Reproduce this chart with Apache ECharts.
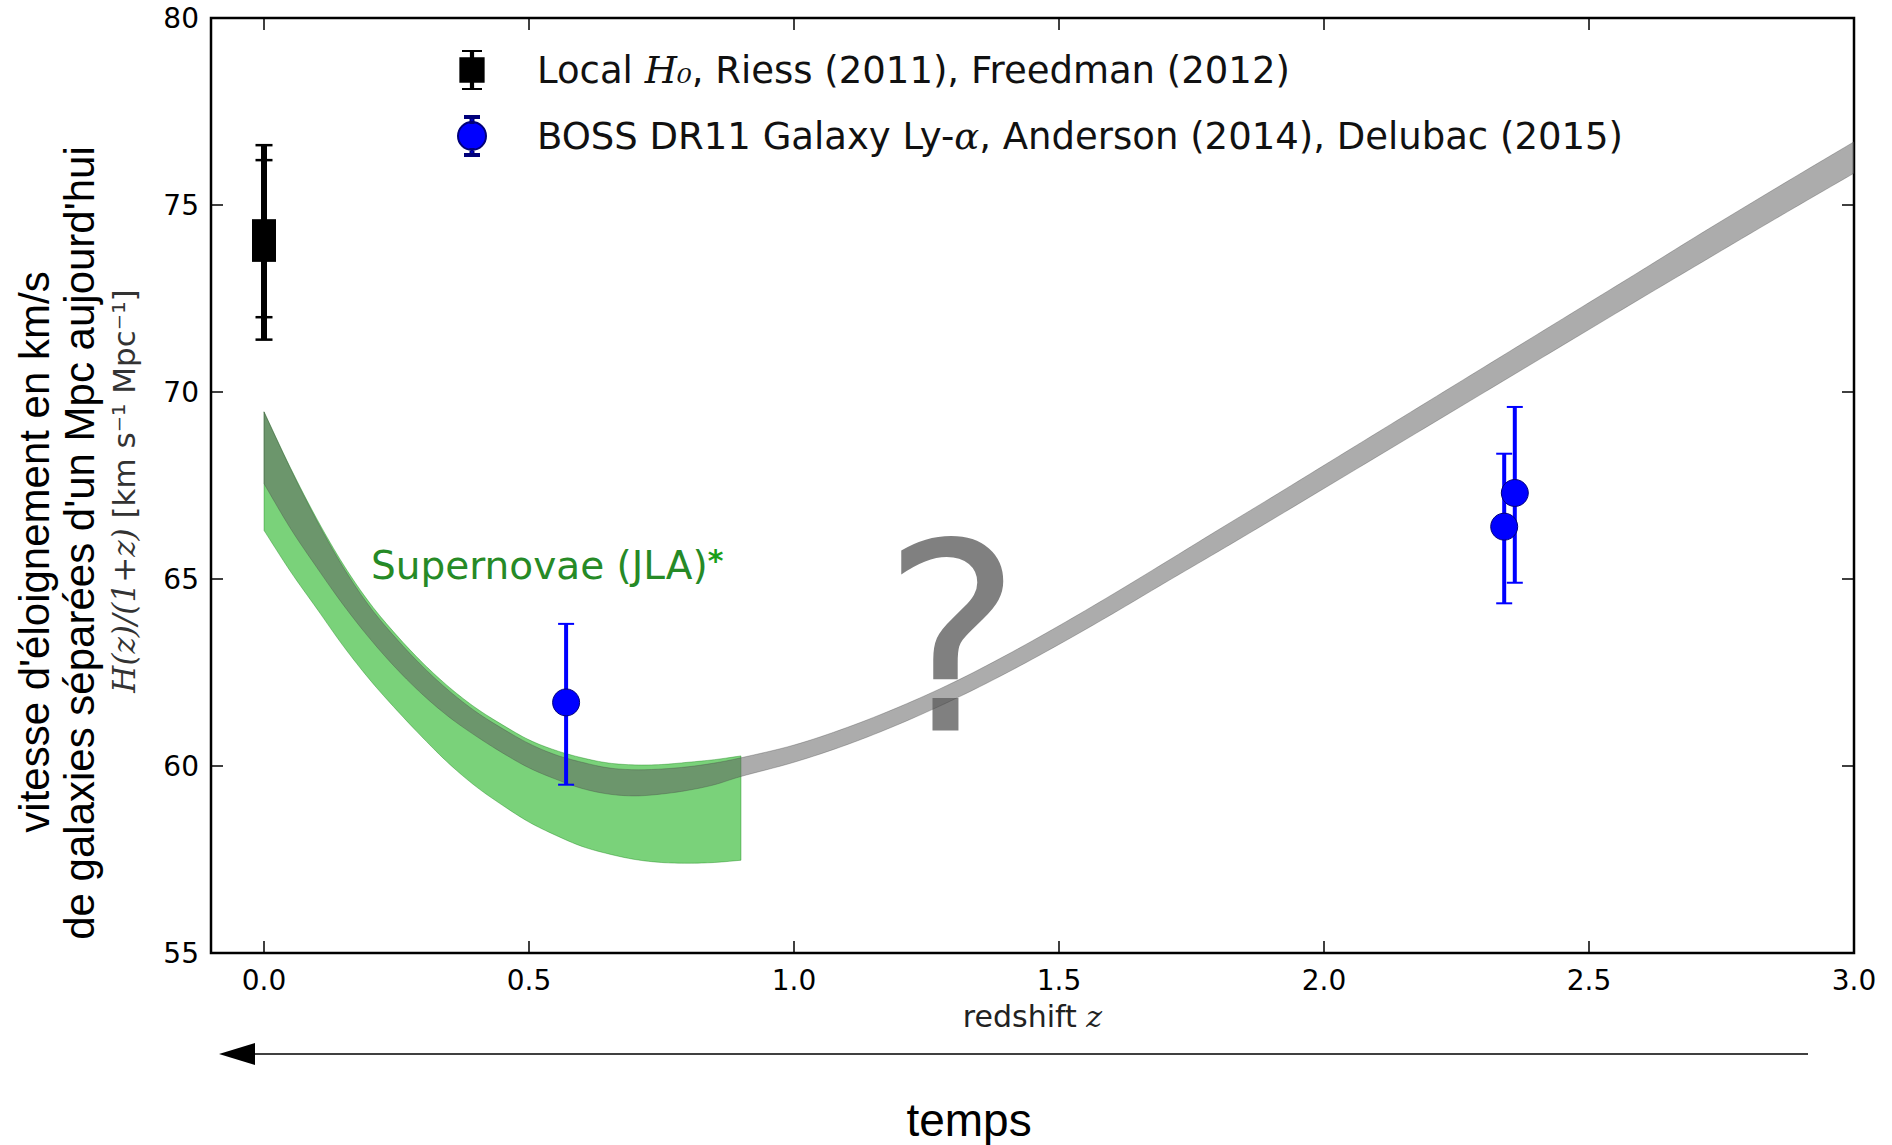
<!DOCTYPE html>
<html><head><meta charset="utf-8">
<script src="https://cdn.jsdelivr.net/npm/echarts@6/dist/echarts.min.js"></script>
<style>html,body{margin:0;padding:0;background:#fff}#c{width:1892px;height:1145px}</style>
</head><body><div id="c"></div>
<script>
// ---- data ----
const xTicks = [0, 0.5, 1.0, 1.5, 2.0, 2.5, 3.0];
const xTickLabels = ['0.0', '0.5', '1.0', '1.5', '2.0', '2.5', '3.0'];
const yTicks = [55, 60, 65, 70, 75, 80];

// grey band (model prediction)
const grayZ    = [0, 0.05, 0.10, 0.15, 0.20, 0.25, 0.30, 0.35, 0.40, 0.45, 0.50, 0.55, 0.60, 0.65, 0.70, 0.75, 0.80, 0.85, 0.90,
                  1.0, 1.1, 1.2, 1.3, 1.4, 1.5, 1.6, 1.7, 1.8, 1.9, 2.0, 2.1, 2.2, 2.3, 2.4, 2.5, 2.6, 2.7, 2.8, 2.9, 3.0];
const grayLow  = [67.55, 66.35, 65.3, 64.3, 63.4, 62.6, 61.9, 61.3, 60.8, 60.35, 59.95, 59.65, 59.4, 59.25, 59.2, 59.25, 59.35, 59.5, 59.72,
                  60.1, 60.57, 61.13, 61.77, 62.48, 63.25, 64.06, 64.9, 65.73, 66.57, 67.42, 68.27, 69.12, 69.97, 70.82, 71.67, 72.52, 73.36, 74.2, 75.03, 75.85];
const grayHigh = [69.47, 67.95, 66.55, 65.3, 64.25, 63.4, 62.65, 62.0, 61.45, 61.0, 60.6, 60.3, 60.1, 59.95, 59.9, 59.92, 59.98, 60.08, 60.22,
                  60.56, 61.03, 61.59, 62.23, 62.96, 63.75, 64.58, 65.44, 66.31, 67.17, 68.04, 68.91, 69.78, 70.65, 71.52, 72.39, 73.26, 74.14, 75.0, 75.85, 76.69];

// green band (supernovae JLA)
const greenZ    = [0, 0.05, 0.10, 0.15, 0.20, 0.25, 0.30, 0.35, 0.40, 0.45, 0.50, 0.55, 0.60, 0.65, 0.70, 0.75, 0.80, 0.85, 0.90];
const greenLow  = [66.3, 65.2, 64.2, 63.2, 62.3, 61.5, 60.75, 60.05, 59.45, 58.95, 58.5, 58.15, 57.85, 57.65, 57.5, 57.42, 57.4, 57.42, 57.48];
const greenHigh = [69.47, 67.97, 66.6, 65.38, 64.35, 63.5, 62.75, 62.1, 61.55, 61.1, 60.7, 60.42, 60.22, 60.08, 60.03, 60.04, 60.1, 60.17, 60.27];

// Local H0 (Riess 2011, Freedman 2012)
const localZ  = [0, 0];
const localH  = [74.3, 73.8];
const localLo = [72.0, 71.4];
const localHi = [76.6, 76.2];

// BOSS DR11 galaxy + Ly-alpha
const bossZ  = [0.57, 2.34, 2.36];
const bossH  = [61.7, 66.4, 67.3];
const bossLo = [59.5, 64.35, 64.9];
const bossHi = [63.8, 68.35, 69.6];

// ---- chart ----
const chart = echarts.init(document.getElementById('c'), null, {renderer: 'svg'});

// Catmull-Rom densification of pixel points (smooth edge through the read values)
function smoothPts(pts, n) {
  const out = [];
  const L = pts.length;
  for (let i = 0; i < L - 1; i++) {
    const p0 = pts[Math.max(i - 1, 0)], p1 = pts[i], p2 = pts[i + 1], p3 = pts[Math.min(i + 2, L - 1)];
    for (let k = 0; k < n; k++) {
      const t = k / n, t2 = t * t, t3 = t2 * t;
      const f = (a, b, c, d) => 0.5 * ((2 * b) + (-a + c) * t + (2 * a - 5 * b + 4 * c - d) * t2 + (-a + 3 * b - 3 * c + d) * t3);
      out.push([f(p0[0], p1[0], p2[0], p3[0]), f(p0[1], p1[1], p2[1], p3[1])]);
    }
  }
  out.push(pts[L - 1]);
  return out;
}

function bandSeries(zs, lo, hi, fill, stroke, z) {
  return {
    type: 'custom', z: z, silent: true, clip: true,
    data: zs.map((v, i) => [v, lo[i], hi[i]]),
    encode: {x: 0, y: [1, 2]},
    renderItem: function (params, api) {
      if (params.dataIndex !== 0) return null;
      const top = [], bot = [];
      for (let i = 0; i < zs.length; i++) { top.push(api.coord([zs[i], hi[i]])); bot.push(api.coord([zs[i], lo[i]])); }
      const pts = smoothPts(top, 8).concat(smoothPts(bot, 8).reverse());
      return {type: 'polygon', shape: {points: pts}, style: {fill: fill, stroke: stroke, lineWidth: 1}};
    }
  };
}

function errSeries(zs, lo, hi, color, barW, capW, capLW, z) {
  return {
    type: 'custom', z: z, silent: true,
    data: zs.map((v, i) => [v, lo[i], hi[i]]),
    encode: {x: 0, y: [1, 2]},
    renderItem: function (params, api) {
      const p1 = api.coord([api.value(0), api.value(1)]);
      const p2 = api.coord([api.value(0), api.value(2)]);
      return {type: 'group', children: [
        {type: 'line', shape: {x1: p1[0], y1: p1[1], x2: p2[0], y2: p2[1]}, style: {stroke: color, lineWidth: barW}},
        {type: 'line', shape: {x1: p1[0] - capW / 2, y1: p1[1], x2: p1[0] + capW / 2, y2: p1[1]}, style: {stroke: color, lineWidth: capLW}},
        {type: 'line', shape: {x1: p2[0] - capW / 2, y1: p2[1], x2: p2[0] + capW / 2, y2: p2[1]}, style: {stroke: color, lineWidth: capLW}}
      ]};
    }
  };
}

const NAME_LOCAL = 'Local H0, Riess (2011), Freedman (2012)';
const NAME_BOSS = 'BOSS DR11 Galaxy Ly-α, Anderson (2014), Delubac (2015)';

const iconLocal = 'path://M2.5,0 H21.5 V2 H2.5 Z M10,2 H14 V7 H10 Z M0,7 H24 V31 H0 Z M10,31 H14 V36 H10 Z M2.5,36 H21.5 V38 H2.5 Z';
const iconBoss = 'path://M8,0 H22 V2 H8 Z M13.5,2 H16.5 V7 H13.5 Z M1,20 A14,14 0 1,1 29,20 A14,14 0 1,1 1,20 Z M13.5,33 H16.5 V38 H13.5 Z M8,38 H22 V40 H8 Z';

const FONT = 'DejaVu Sans';
const tickFont = 28;
const tickStyle = {inside: true, length: 12, lineStyle: {color: '#000', width: 1.5}};

const option = {
  animation: false,
  backgroundColor: '#ffffff',
  grid: {left: 211, right: 38, top: 18, bottom: 192, show: true, borderColor: '#000', borderWidth: 2.5, backgroundColor: 'transparent'},
  xAxis: [
    {type: 'value', min: -0.1, max: 3.0, position: 'bottom',
     axisLine: {show: false, onZero: false}, splitLine: {show: false},
     axisTick: Object.assign({customValues: xTicks}, tickStyle),
     axisLabel: {customValues: xTicks, formatter: v => xTickLabels[xTicks.indexOf(+(+v).toFixed(1))] || (+v).toFixed(1),
                 fontSize: tickFont, fontFamily: FONT, color: '#000', margin: 13},
     name: 'redshift {it|z}', nameLocation: 'middle', nameGap: 48,
     nameTextStyle: {fontSize: 30, fontFamily: FONT, color: '#222',
       rich: {it: {fontSize: 30, fontFamily: 'DejaVu Serif', fontStyle: 'italic', color: '#222'}}}},
    {type: 'value', min: -0.1, max: 3.0, position: 'top',
     axisLine: {show: false, onZero: false}, splitLine: {show: false}, axisLabel: {show: false},
     axisTick: Object.assign({customValues: xTicks}, tickStyle)}
  ],
  yAxis: [
    {type: 'value', min: 55, max: 80, interval: 5, position: 'left',
     axisLine: {show: false, onZero: false}, splitLine: {show: false},
     axisTick: tickStyle,
     axisLabel: {fontSize: tickFont, fontFamily: FONT, color: '#000', margin: 12}},
    {type: 'value', min: 55, max: 80, interval: 5, position: 'right',
     axisLine: {show: false, onZero: false}, splitLine: {show: false}, axisLabel: {show: false},
     axisTick: tickStyle}
  ],
  legend: {
    orient: 'vertical', left: 452, top: 45, itemWidth: 30, itemHeight: 40, itemGap: 25,
    selectedMode: false,
    data: [{name: NAME_LOCAL, icon: iconLocal}, {name: NAME_BOSS, icon: iconBoss}],
    formatter: function (name) {
      if (name === NAME_LOCAL) return 'Local {it|H₀}, Riess (2011), Freedman (2012)';
      return 'BOSS DR11 Galaxy Ly-{it|α}, Anderson (2014), Delubac (2015)';
    },
    textStyle: {fontSize: 37, fontFamily: FONT, color: '#111', padding: [0, 0, 0, 45], lineHeight: 40,
      rich: {it: {fontSize: 37, fontFamily: 'DejaVu Serif', fontStyle: 'italic', color: '#111'}}}
  },
  series: [
    bandSeries(greenZ, greenLow, greenHigh, 'rgba(0,168,0,0.52)', 'rgba(0,120,0,0.35)', 1),
    bandSeries(grayZ, grayLow, grayHigh, 'rgba(96,96,96,0.52)', 'rgba(60,60,60,0.3)', 2),
    errSeries(localZ, localLo, localHi, '#000', 6, 17, 2.5, 5),
    errSeries(bossZ, bossLo, bossHi, '#0000ff', 4, 16, 2, 5),
    {name: NAME_LOCAL, type: 'scatter', z: 6, symbol: 'rect', symbolSize: 24, silent: true,
     itemStyle: {color: '#000', opacity: 1},
     data: localZ.map((v, i) => [v, localH[i]])},
    {name: NAME_BOSS, type: 'scatter', z: 6, symbol: 'circle', symbolSize: 27, silent: true,
     itemStyle: {color: '#0000ff', borderColor: '#00007a', borderWidth: 1, opacity: 1},
     data: bossZ.map((v, i) => [v, bossH[i]])}
  ],
  graphic: [
    {type: 'text', x: 34, y: 552, rotation: Math.PI / 2, silent: true,
     style: {text: "vitesse d'éloignement en km/s", fontSize: 42, fontFamily: 'Liberation Sans', fill: '#000', align: 'center', verticalAlign: 'middle'}},
    {type: 'text', x: 79, y: 543, rotation: Math.PI / 2, silent: true,
     style: {text: "de galaxies séparées d'un Mpc aujourd'hui", fontSize: 42, fontFamily: 'Liberation Sans', fill: '#000', align: 'center', verticalAlign: 'middle'}},
    {type: 'text', x: 124, y: 491, rotation: Math.PI / 2, silent: true,
     style: {text: '{m|H(z)/(1+z)} [km s⁻¹ Mpc⁻¹]', fontSize: 31, fontFamily: FONT, fill: '#333', align: 'center', verticalAlign: 'middle',
       rich: {m: {fontSize: 31, fontFamily: 'DejaVu Serif', fontStyle: 'italic', fill: '#333'}}}},
    {type: 'text', x: 952, y: 640, silent: true, z: 0,
     style: {text: '?', fontSize: 262, fontFamily: FONT, fill: '#808080', align: 'center', verticalAlign: 'middle'}},
    {type: 'text', x: 371, y: 565, silent: true,
     style: {text: '{a|Supernovae (JLA)}{b|*}', fontSize: 39, fontFamily: FONT, fill: '#268a26', align: 'left', verticalAlign: 'middle',
       rich: {a: {fontSize: 39, fontFamily: FONT, fill: '#268a26'}, b: {fontSize: 30, fontWeight: 'bold', fontFamily: FONT, fill: '#19a019', verticalAlign: 'top'}}}},
    {type: 'line', silent: true, shape: {x1: 250, y1: 1054, x2: 1808, y2: 1054}, style: {stroke: '#000', lineWidth: 1.5}},
    {type: 'polygon', silent: true, shape: {points: [[219, 1054], [255, 1043], [255, 1065]]}, style: {fill: '#000'}},
    {type: 'text', x: 969, y: 1120, silent: true,
     style: {text: 'temps', fontSize: 46, fontFamily: 'Liberation Sans', fill: '#000', align: 'center', verticalAlign: 'middle'}}
  ]
};
chart.setOption(option);
</script>
</body></html>
